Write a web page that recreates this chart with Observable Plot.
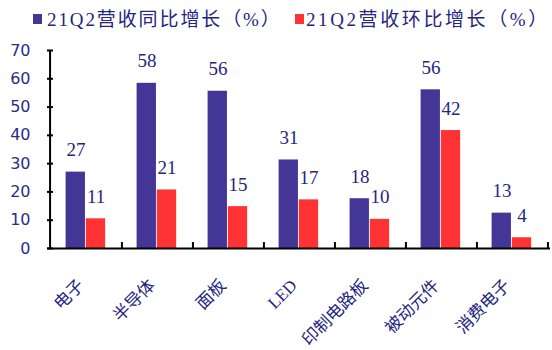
<!DOCTYPE html>
<html>
<head>
<meta charset="utf-8">
<script src="https://cdn.jsdelivr.net/npm/d3@7"></script>
<script src="https://cdn.jsdelivr.net/npm/@observablehq/plot@0.6"></script>
<style>
  body { margin: 0; background: #fff; }
  #wrap { position: relative; width: 552px; height: 350px; background: #fff; overflow: hidden; }
  #legend { position: relative; height: 35px; }
  .sw { position: absolute; top: 14px; width: 9px; height: 10px; }
  .lt { position: absolute; top: 10px; line-height: 19px; height: 19px; white-space: nowrap;
        font-family: "Liberation Serif", "Noto Sans CJK SC", serif; font-size: 19px; color: #25257f; }
  g[aria-label="cat-labels"] text { letter-spacing: 4.5px; }
</style>
</head>
<body>
<div id="wrap">
  <div id="legend"></div>
  <div id="chart"></div>
</div>
<script>
const categories = ["电子", "半导体", "面板", "LED", "印制电路板", "被动元件", "消费电子"];
const seriesNames = ["21Q2营收同比增长（%）", "21Q2营收环比增长（%）"];
const yoy = [27.0, 58.4, 55.6, 31.3, 17.6, 56.1, 12.5];
const qoq = [10.5, 20.7, 14.8, 17.2, 10.3, 41.7, 3.8];
const yTicks = [0, 10, 20, 30, 40, 50, 60, 70];
const colors = ["#433696", "#ff3333"];

const W = 552, H = 315;
const mL = 47, mR = 2, mT = 15, mB = 102;
const step = (W - mL - mR) / categories.length;
const pad = 15.6, bw = 20.2;

// legend
const legend = document.getElementById("legend");
const legPos = [[33, 47, 1.9], [295, 306, 2.6]];
seriesNames.forEach((name, i) => {
  const sw = document.createElement("div");
  sw.className = "sw"; sw.style.left = legPos[i][0] + "px"; sw.style.background = colors[i];
  legend.appendChild(sw);
  const t = document.createElement("div");
  t.className = "lt"; t.style.left = legPos[i][1] + "px"; t.style.letterSpacing = legPos[i][2] + "px";
  t.textContent = name;
  legend.appendChild(t);
});

const blue = categories.map((c, i) => ({c, v: yoy[i]}));
const red = categories.map((c, i) => ({c, v: qoq[i]}));
const navy = "#25257f";
const labelFont = "Liberation Serif, serif";

const chart = Plot.plot({
  width: W, height: H,
  marginLeft: mL, marginRight: mR, marginTop: mT, marginBottom: mB,
  style: {background: "#fff", overflow: "visible"},
  x: {domain: categories, padding: 0, axis: null},
  y: {domain: [0, 70], axis: null, label: null},
  marks: [
    Plot.barY(blue, {x: "c", y: "v", fill: colors[0], insetLeft: pad, insetRight: step - pad - bw}),
    Plot.barY(red, {x: "c", y: "v", fill: colors[1], insetLeft: pad + bw, insetRight: step - pad - 2 * bw}),
    Plot.text(blue, {x: "c", y: "v", text: d => String(Math.round(d.v)), dx: -bw / 2, dy: -16, lineAnchor: "bottom",
      fill: navy, fontSize: 19, fontFamily: labelFont}),
    Plot.text(red, {x: "c", y: "v", text: d => String(Math.round(d.v)), dx: bw / 2, dy: -16, lineAnchor: "bottom",
      fill: navy, fontSize: 19, fontFamily: labelFont}),
    // y axis labels
    Plot.axisY(yTicks, {tickSize: 0, tickPadding: 17, label: null, fontSize: 16, fontFamily: "DejaVu Sans, sans-serif", fill: "#2b2b8c"}),
    // inward y ticks
    Plot.tickY(yTicks, {y: d => d, stroke: "#000", strokeWidth: 2, insetRight: W - mL - mR - 6}),
    // y axis line
    Plot.ruleX([categories[0]], {x: d => d, dx: -step / 2, stroke: "#000", strokeWidth: 2}),
    // x axis line
    Plot.ruleY([0], {stroke: "#000", strokeWidth: 2}),
    // x boundary ticks
    Plot.ruleX(categories, {x: d => d, dx: step / 2, stroke: "#000", strokeWidth: 2, insetTop: H - mT - mB - 6}),
    // category labels
    Plot.text(categories, {x: d => d, y: 0, text: d => d, rotate: -45, textAnchor: "end", lineAnchor: "bottom",
      dx: -1, dy: 38, fontSize: 17, fontFamily: "Liberation Serif, Noto Sans CJK SC, serif", fill: navy, ariaLabel: "cat-labels"})
  ]
});
document.getElementById("chart").appendChild(chart);
</script>
</body>
</html>
